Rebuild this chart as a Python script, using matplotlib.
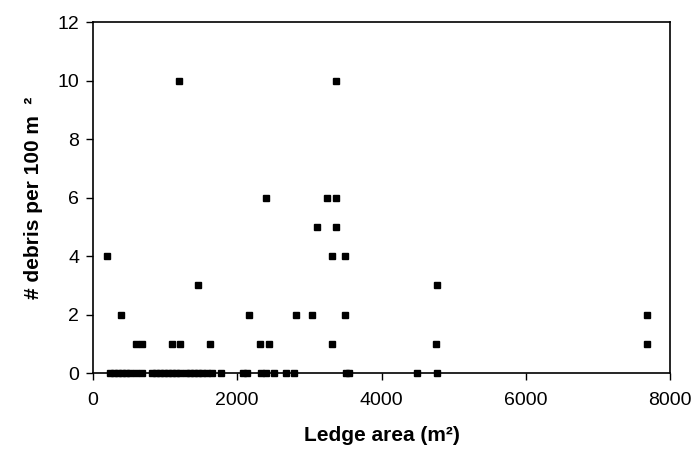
import matplotlib
matplotlib.use('Agg')
import matplotlib.pyplot as plt

plt.rcParams['font.family'] = ['Liberation Sans', 'DejaVu Sans']

# ledge area (m^2) and debris density
area = [195, 385, 600, 680, 1100, 1200, 1455, 1620, 2160, 2320, 2440,
        2815, 3040, 3495, 3315, 4760, 4770, 7680, 7680,
        2400, 3245, 3370, 3105, 3370, 3315, 3495, 1190, 3375,
        236, 291, 347, 402, 458, 513, 596, 680, 818, 874, 929, 985, 1040,
        1096, 1151, 1207, 1290, 1345, 1401, 1456, 1512, 1581, 1650, 1775,
        2080, 2136, 2330, 2399, 2510, 2680, 2790, 3509, 3550, 4490, 4770]
debris = [4, 2, 1, 1, 1, 1, 3, 1, 2, 1, 1,
          2, 2, 2, 1, 1, 3, 2, 1,
          6, 6, 6, 5, 5, 4, 4, 10, 10,
          0, 0, 0, 0, 0, 0, 0, 0, 0, 0, 0, 0, 0,
          0, 0, 0, 0, 0, 0, 0, 0, 0, 0, 0,
          0, 0, 0, 0, 0, 0, 0, 0, 0, 0, 0]

xticks = [0, 2000, 4000, 6000, 8000]
yticks = [0, 2, 4, 6, 8, 10, 12]

fig = plt.figure(figsize=(6.98, 4.59), dpi=100)
ax = fig.add_axes([93 / 698, 1 - 373 / 459, 577 / 698, 351 / 459])

ax.plot(area, debris, 's', color='black', markersize=4.3, clip_on=False, zorder=3)

ax.set_xlim(0, 8000)
ax.set_ylim(0, 12)
ax.set_xticks(xticks)
ax.set_yticks(yticks)
ax.tick_params(direction='out', length=5, width=1, labelsize=14, pad=5)
ax.tick_params(axis='x', pad=9)

for s in ax.spines.values():
    s.set_linewidth(1.2)
    s.set_color('black')

ax.set_xlabel('Ledge area (m²)', fontsize=15, fontweight='bold', labelpad=12)
ax.set_ylabel('# debris per 100 m  ²', fontsize=15, fontweight='bold', labelpad=10)

fig.savefig('out.png', dpi=100)
